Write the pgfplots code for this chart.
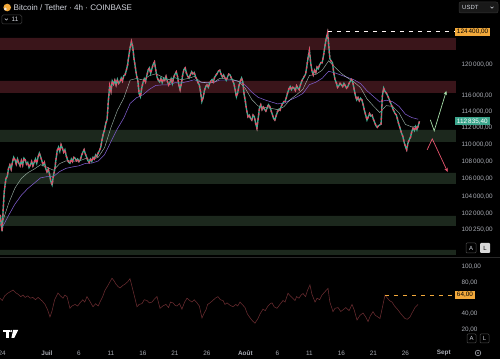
\documentclass[border=0pt]{standalone}
\usepackage{fontspec}
\setmainfont{Liberation Sans}
\usepackage{pgfplots}
\usepackage{pgfplotstable}
\usetikzlibrary{arrows.meta}
\pgfplotsset{compat=1.18}
\definecolor{bg}{HTML}{000000}
\definecolor{zred}{HTML}{3A151A}
\definecolor{zgreen}{HTML}{1C281D}
\definecolor{cup}{HTML}{3FAF93}
\definecolor{cdn}{HTML}{E84A66}
\definecolor{maF}{HTML}{BFD8CC}
\definecolor{maS}{HTML}{7E5CCC}
\definecolor{rsi}{HTML}{6A2C30}
\definecolor{lbl}{HTML}{A8ABB3}
\definecolor{hdr}{HTML}{D1D4DC}
\definecolor{obox}{HTML}{F2A93B}
\definecolor{tbox}{HTML}{3BA58C}
\definecolor{garrow}{HTML}{A6DDA8}
\definecolor{rarrow}{HTML}{E8566F}
\pgfplotstableread{
d p
-7.3 101900
-7.15 100800
-7.0 100100
-6.85 102400
-6.7 104300
-6.55 105300
-6.4 106000
-6.2 106300
-6.0 107200
-5.8 107600
-5.6 107100
-5.4 107900
-5.2 108500
-5.0 108200
-4.8 107700
-4.6 108300
-4.4 107800
-4.2 107500
-4.0 108100
-3.8 107600
-3.6 108400
-3.4 108200
-3.2 107700
-3.0 107900
-2.8 107300
-2.6 107600
-2.4 108000
-2.2 107500
-2.0 107900
-1.8 108300
-1.6 107800
-1.4 108500
-1.2 109000
-1.0 108600
-0.8 108100
-0.6 107600
-0.4 107900
-0.2 107200
0.0 106800
0.2 107100
0.4 106500
0.6 105700
0.8 105300
1.0 106300
1.2 107000
1.4 108200
1.6 109300
1.8 109700
2.0 109200
2.2 110000
2.4 109600
2.6 109100
2.8 109400
3.0 108700
3.2 108200
3.4 107900
3.6 107800
3.8 108300
4.0 108000
4.2 108500
4.4 108400
4.6 108100
4.8 108300
5.0 108000
5.2 108200
5.4 108700
5.6 109100
5.8 109400
6.0 108900
6.2 108500
6.4 108100
6.6 107900
6.8 108300
7.0 108000
7.2 108500
7.4 108300
7.6 108800
7.8 108600
8.0 109000
8.2 109300
8.4 109700
8.6 110600
8.8 111300
9.0 111800
9.2 112600
9.4 113100
9.6 115500
9.8 117300
10.0 116600
10.2 117900
10.4 117500
10.6 118000
10.8 117400
11.0 118100
11.2 117600
11.4 117800
11.6 118300
11.8 117900
12.0 118600
12.2 118700
12.4 119300
12.6 120000
12.8 121300
13.0 122300
13.2 123100
13.4 122400
13.6 120800
13.8 119700
14.0 118600
14.2 117900
14.4 116300
14.6 115900
14.8 117000
15.0 117700
15.2 118200
15.4 117800
15.6 118600
15.8 119300
16.0 119600
16.2 118900
16.4 119500
16.6 120100
16.8 120400
17.0 119300
17.2 118400
17.4 118000
17.6 117800
17.8 118300
18.0 117700
18.2 118200
18.4 118000
18.6 118500
18.8 117900
19.0 117400
19.2 117700
19.4 118200
19.6 117600
19.8 118400
20.0 118800
20.2 119100
20.4 118500
20.6 117400
20.8 116800
21.0 117600
21.2 118700
21.4 119400
21.6 119600
21.8 118900
22.0 118500
22.2 118300
22.4 118700
22.6 119100
22.8 118800
23.0 119000
23.2 118500
23.4 118100
23.6 117700
23.8 117400
24.0 116500
24.2 115300
24.4 115800
24.6 116700
24.8 117200
25.0 117400
25.2 117100
25.4 117600
25.6 117900
25.8 118100
26.0 117800
26.2 118400
26.6 118900
26.8 119200
27.0 119300
27.2 118800
27.4 118400
27.6 118700
27.8 118300
28.0 118000
28.2 118400
28.4 118800
28.6 118700
28.8 118300
29.0 118000
29.2 117600
29.4 116800
29.6 115900
29.8 116400
30.0 117300
30.2 117900
30.4 118300
30.6 117800
30.8 116200
31.0 115300
31.2 114200
31.4 113400
31.6 113600
31.8 113200
32.0 113000
32.2 113600
32.4 113400
32.6 112600
32.8 112000
33.0 113200
33.2 114500
33.4 114900
33.6 114300
33.8 114600
34.0 114300
34.2 114100
34.4 114500
34.6 114900
34.8 114700
35.0 114200
35.2 113700
35.4 113200
35.6 113000
35.8 113500
36.0 114000
36.2 114300
36.4 114200
36.6 114700
36.8 115000
37.0 115300
37.2 115300
37.4 115800
37.6 116400
37.8 116900
38.0 117200
38.2 116800
38.4 117100
38.6 117000
38.8 116700
39.0 117300
39.2 117000
39.4 116800
39.6 117400
39.8 117900
40.0 118200
40.2 118500
40.4 118800
40.6 119800
40.8 121000
41.0 121900
41.2 120300
41.4 119200
41.6 118700
41.8 119300
42.0 119000
42.2 119700
42.4 119500
42.6 120000
42.8 120300
43.0 120300
43.2 121200
43.4 122300
43.6 123400
43.85 124300
44.0 122800
44.2 120800
44.4 120500
44.6 120300
44.8 119000
45.0 118100
45.2 117700
45.4 117100
45.6 117300
45.8 117600
46.0 117400
46.2 117200
46.4 117600
46.6 117300
46.8 117000
47.0 117200
47.2 117600
47.4 117900
47.6 118100
47.8 117700
48.0 116800
48.2 116000
48.4 115500
48.6 115800
48.8 115400
49.0 115700
49.2 115500
49.4 114900
49.6 114200
49.8 113600
50.0 113000
50.2 113400
50.4 113800
50.6 113500
50.8 113600
51.0 113100
51.2 112700
51.4 112300
51.6 112100
51.8 112300
52.0 112400
52.2 112500
52.4 116000
52.6 117000
52.8 116600
53.0 116400
53.2 116100
53.4 115700
53.6 115300
53.8 114900
54.0 114500
54.2 114100
54.4 113800
54.6 113600
54.8 113000
55.0 112400
55.2 111900
55.4 111400
55.6 111000
55.8 110300
56.0 109800
56.2 109400
56.4 110200
56.6 110600
56.8 110900
57.0 111600
57.2 112000
57.4 111700
57.6 112200
57.8 111800
58.0 112300
58.2 112835
}\price
\pgfplotstableread{
d f s
-7 101000 100500
-6 103170 101840
-5 104930 103110
-4 106040 104110
-3 106690 104870
-2 107110 105480
-1 107630 106100
0 107340 106240
1 106980 106250
2 107760 106840
3 108090 107210
4 108060 107370
5 108060 107500
6 108350 107780
7 108230 107820
8 108500 108060
9 109660 108810
10 112090 110370
11 114190 111920
12 115730 113260
13 118030 115070
14 118230 115780
15 118040 116160
16 118590 116850
17 118840 117340
18 118440 117410
19 118080 117410
20 118330 117690
21 118070 117670
22 118220 117840
23 118490 118070
24 117790 117760
25 117650 117690
26 117700 117710
27 118260 118030
28 118170 118020
29 118110 118020
30 117830 117880
31 116940 117360
32 115560 116490
33 114730 115830
34 114580 115520
35 114450 115260
36 114290 115010
37 114640 115070
38 115540 115500
39 116160 115860
40 116870 116330
41 118630 117440
42 118760 117750
43 119300 118260
44 120530 119170
45 119680 118960
46 118880 118650
47 118290 118360
48 117770 118050
49 117050 117580
50 115630 116660
51 114740 115950
52 113920 115240
53 114790 115470
54 114690 115280
55 113890 114700
56 112460 113720
57 112160 113300
58 112210 113100
}\mas
\pgfplotstableread{
d r
-7.34 60
-7.0 57
-6.6 63
-6.2 66
-5.8 68
-5.3 70.5
-4.9 67
-4.5 65
-4.1 62
-3.75 64
-3.4 61
-3.0 63
-2.6 60
-2.2 61
-1.8 58
-1.4 61
-1.1 59
-0.7 56
-0.3 52
0.1 45
0.47 36
0.8 44
1.2 58
1.72 66.7
2.1 63
2.5 60
2.8 64
3.13 62
3.59 47
3.9 50
4.38 52
4.8 50
5.16 54
5.6 58
5.9 55
6.25 62
6.7 56
7.19 49
7.6 53
8.0 50
8.28 55
8.7 62
9.06 70
9.5 76
10.16 85.6
10.5 82
10.78 78
11.1 75
11.41 73
11.8 76
12.19 78
12.6 81
12.97 85
13.44 70
13.8 58
14.06 49
14.4 52
14.84 53
15.2 58
15.63 57
16.0 54
16.41 55
16.8 59
17.19 62
17.66 47
18.1 50
18.59 52
19.0 48
19.3 55
19.69 54
20.0 51
20.31 50
20.7 53
21.09 46
21.5 55
21.88 60
22.3 57
22.66 55
23.0 58
23.44 54
23.8 50
24.22 34.6
24.5 40
24.84 45
25.1 52
25.47 54
25.9 57
26.3 60
26.72 62
27.1 58
27.5 57
27.8 52
28.13 54
28.6 51
29.06 49
29.5 52
29.8 50
30.16 55
30.5 52
30.94 48
31.3 40
31.72 35
32.1 31
32.5 28
32.97 34
33.3 40
33.75 46
34.1 44
34.53 50
34.9 53
35.16 54
35.5 49
35.94 47
36.4 52
36.88 57
37.2 55
37.66 66.4
38.0 63
38.4 60
38.75 57
39.0 62
39.38 60
39.7 64
40.0 66
40.4 62
40.7 70
41.09 77
41.4 65
41.88 55
42.2 60
42.6 58
42.97 64
43.4 68
43.91 72.6
44.2 55
44.69 42.7
45.0 47
45.47 48
45.9 43
46.25 45
46.7 48
47.2 44
47.66 52
48.0 45
48.44 32
48.9 38
49.38 41
49.8 36
50.16 30
50.5 37
50.94 42.7
51.3 38
51.7 36
52.03 34
52.4 48
52.81 64
53.2 60
53.5 57
53.91 55
54.3 50
54.84 45
55.2 41
55.6 37
55.94 34
56.3 33
56.72 36
57.1 42
57.5 48
57.97 52
}\rsitab
\begin{document}
\begin{tikzpicture}
\useasboundingbox (0bp,0bp) rectangle (500bp,359bp);
\fill[bg] (0bp,0bp) rectangle (500bp,359bp);
\begin{scope}
\clip (0bp,0bp) rectangle (500bp,359bp);
% price pane
\begin{axis}[at={(0bp,103bp)}, anchor=south west, scale only axis,
  width=455bp, height=256bp,
  xmin=-7.34, xmax=63.75, ymode=log, ymin=97451, ymax=128815,
  axis line style={draw=none}, tick style={draw=none},
  major tick length=0, minor tick length=0, minor y tick num=0,
  xtick=\empty,
  ytick={100250,102000,104000,106000,108000,110000,112000,114000,116000,120000},
  yticklabels={{100\,250,00},{102\,000,00},{104\,000,00},{106\,000,00},{108\,000,00},{110\,000,00},{112\,000,00},{114\,000,00},{116\,000,00},{120\,000,00}},
  yticklabel pos=right,
  yticklabel style={anchor=west, xshift=3bp, font=\fontsize{6.4}{7}\selectfont, text=lbl},
  clip=false]
\addplot[draw=none, fill=zred] coordinates {(-7.34,121983) (63.9,121983) (63.9,123589) (-7.34,123589) (-7.34,121983)};
\addplot[draw=none, fill=zred] coordinates {(-7.34,116399) (63.9,116399) (63.9,117932) (-7.34,117932) (-7.34,116399)};
\addplot[draw=none, fill=zgreen] coordinates {(-7.34,110343) (63.9,110343) (63.9,111798) (-7.34,111798) (-7.34,110343)};
\addplot[draw=none, fill=zgreen] coordinates {(-7.34,105403) (63.9,105403) (63.9,106674) (-7.34,106674) (-7.34,105403)};
\addplot[draw=none, fill=zgreen] coordinates {(-7.34,100691) (63.9,100691) (63.9,101797) (-7.34,101797) (-7.34,100691)};
\addplot[draw=none, fill=zgreen] coordinates {(-7.34,97557) (63.9,97557) (63.9,98090) (-7.34,98090) (-7.34,97557)};
\addplot[maS, line width=0.55bp] table[x=d, y=s]{\mas};
\addplot[maF, line width=0.45bp, opacity=0.8] table[x=d, y=f]{\mas};
\addplot[cup, line width=1.35bp] table[x=d, y=p]{\price};
\addplot[cdn, line width=1.35bp, dash pattern=on 2.2bp off 2.4bp] table[x=d, y=p]{\price};
\addplot[white!85!pink, line width=0.7bp, dash pattern=on 4bp off 5bp] coordinates {(43.9,124400) (63.75,124400)};
\addplot[garrow, line width=0.7bp, -{Stealth[length=4bp,width=3.5bp]}] coordinates {(59.9,113024) (60.5,111676) (62.4,116650)};
\addplot[rarrow, line width=0.7bp, -{Stealth[length=4bp,width=3.5bp]}] coordinates {(59.4,109388) (60.2,110703) (62.6,106790)};
\node[anchor=west, fill=obox, text=black, inner xsep=1.8bp, inner ysep=1.5bp, font=\fontsize{6.4}{7}\selectfont] at (axis cs:63.75,124400) {124\,400,00};
\node[anchor=west, fill=tbox, text=white, inner xsep=1.8bp, inner ysep=1.5bp, font=\fontsize{6.4}{7}\selectfont] at (axis cs:63.75,112835.4) {112\,835,40};
\end{axis}
% RSI pane
\begin{axis}[at={(0bp,17bp)}, anchor=south west, scale only axis,
  width=455bp, height=84bp,
  xmin=-7.34, xmax=63.75, ymin=3.85, ymax=111.5,
  axis line style={draw=none}, tick style={draw=none},
  major tick length=0,
  xtick={-7,0,5,10,15,20,25,31,36,41,46,51,56,62},
  xticklabels={24,\textbf{Juil},6,11,16,21,26,\textbf{Août},6,11,16,21,26,\textbf{Sept}},
  xticklabel style={anchor=center, yshift=-11bp, font=\fontsize{6.4}{7}\selectfont, text=lbl},
  ytick={20,40,80,100},
  yticklabels={{20,00},{40,00},{80,00},{100,00}},
  yticklabel pos=right,
  yticklabel style={anchor=west, xshift=3bp, font=\fontsize{6.4}{7}\selectfont, text=lbl},
  clip=false]
\addplot[rsi, line width=0.55bp] table[x=d, y=r]{\rsitab};
\addplot[obox, line width=0.7bp, dash pattern=on 4bp off 5bp] coordinates {(52.8,64) (63.75,64)};
\node[anchor=west, fill=obox, text=black, inner xsep=1.8bp, inner ysep=1.2bp, font=\fontsize{6.4}{7}\selectfont] at (axis cs:63.75,64) {64,00};
\end{axis}
\end{scope}
\begin{scope}[x=1bp,y=1bp]
% separator
\draw[color=white!16!black, line width=0.8bp] (0,101.5) -- (500,101.5);
% header
\fill[obox] (7.2,351.5) circle (3.8bp);
\fill[white!90!black] (5.4,350) circle (1.5bp);
\node[anchor=west, text=hdr, inner sep=0, font=\fontsize{8.1}{9}\selectfont] at (13.5,351.8) {Bitcoin / Tether · 4h · COINBASE};
\draw[color=white!25!black, rounded corners=1.5bp, line width=0.5bp] (1.8,335) rectangle (21.8,344);
\draw[hdr, line width=0.5bp] (4.8,340.4) -- (6.3,338.9) -- (7.8,340.4);
\node[text=hdr, inner sep=0, font=\fontsize{6.4}{7}\selectfont] at (15,339.5) {11};
\filldraw[fill=white!10!black, draw=white!20!black, rounded corners=2bp, line width=0.5bp] (459,346) rectangle (498,357);
\node[anchor=west, text=hdr, inner sep=0, font=\fontsize{6}{7}\selectfont] at (462,351.5) {USDT};
\draw[hdr, line width=0.5bp] (490.5,352.3) -- (492,350.8) -- (493.5,352.3);
% A / L buttons
\draw[color=white!30!black, rounded corners=1bp, line width=0.5bp] (466,106) rectangle (476,116);
\node[text=hdr, inner sep=0, font=\fontsize{6}{7}\selectfont] at (471,111) {A};
\fill[white!85!black, rounded corners=1bp] (480,106) rectangle (490,116);
\node[text=black, inner sep=0, font=\fontsize{6}{7}\selectfont] at (485,111) {L};
\draw[color=white!30!black, rounded corners=1bp, line width=0.5bp] (467,16) rectangle (476,25);
\node[text=hdr, inner sep=0, font=\fontsize{6}{7}\selectfont] at (471.5,20.5) {A};
\draw[color=white!30!black, rounded corners=1bp, line width=0.5bp] (480,16) rectangle (489,25);
\node[text=hdr, inner sep=0, font=\fontsize{6}{7}\selectfont] at (484.5,20.5) {L};
% TradingView logo
\fill[white] (3,29) rectangle (9.5,26.8);
\fill[white] (6.2,26.8) rectangle (8.8,21);
\fill[white] (11.2,27.9) circle (1.2bp);
\fill[white] (13.2,29) -- (18.2,29) -- (14.2,21) -- (11.4,21) -- cycle;
% gear
\draw[lbl, line width=0.6bp] (478,6) circle (2.8bp);
\fill[lbl] (478,6) circle (0.9bp);
\end{scope}
\end{tikzpicture}
\end{document}
